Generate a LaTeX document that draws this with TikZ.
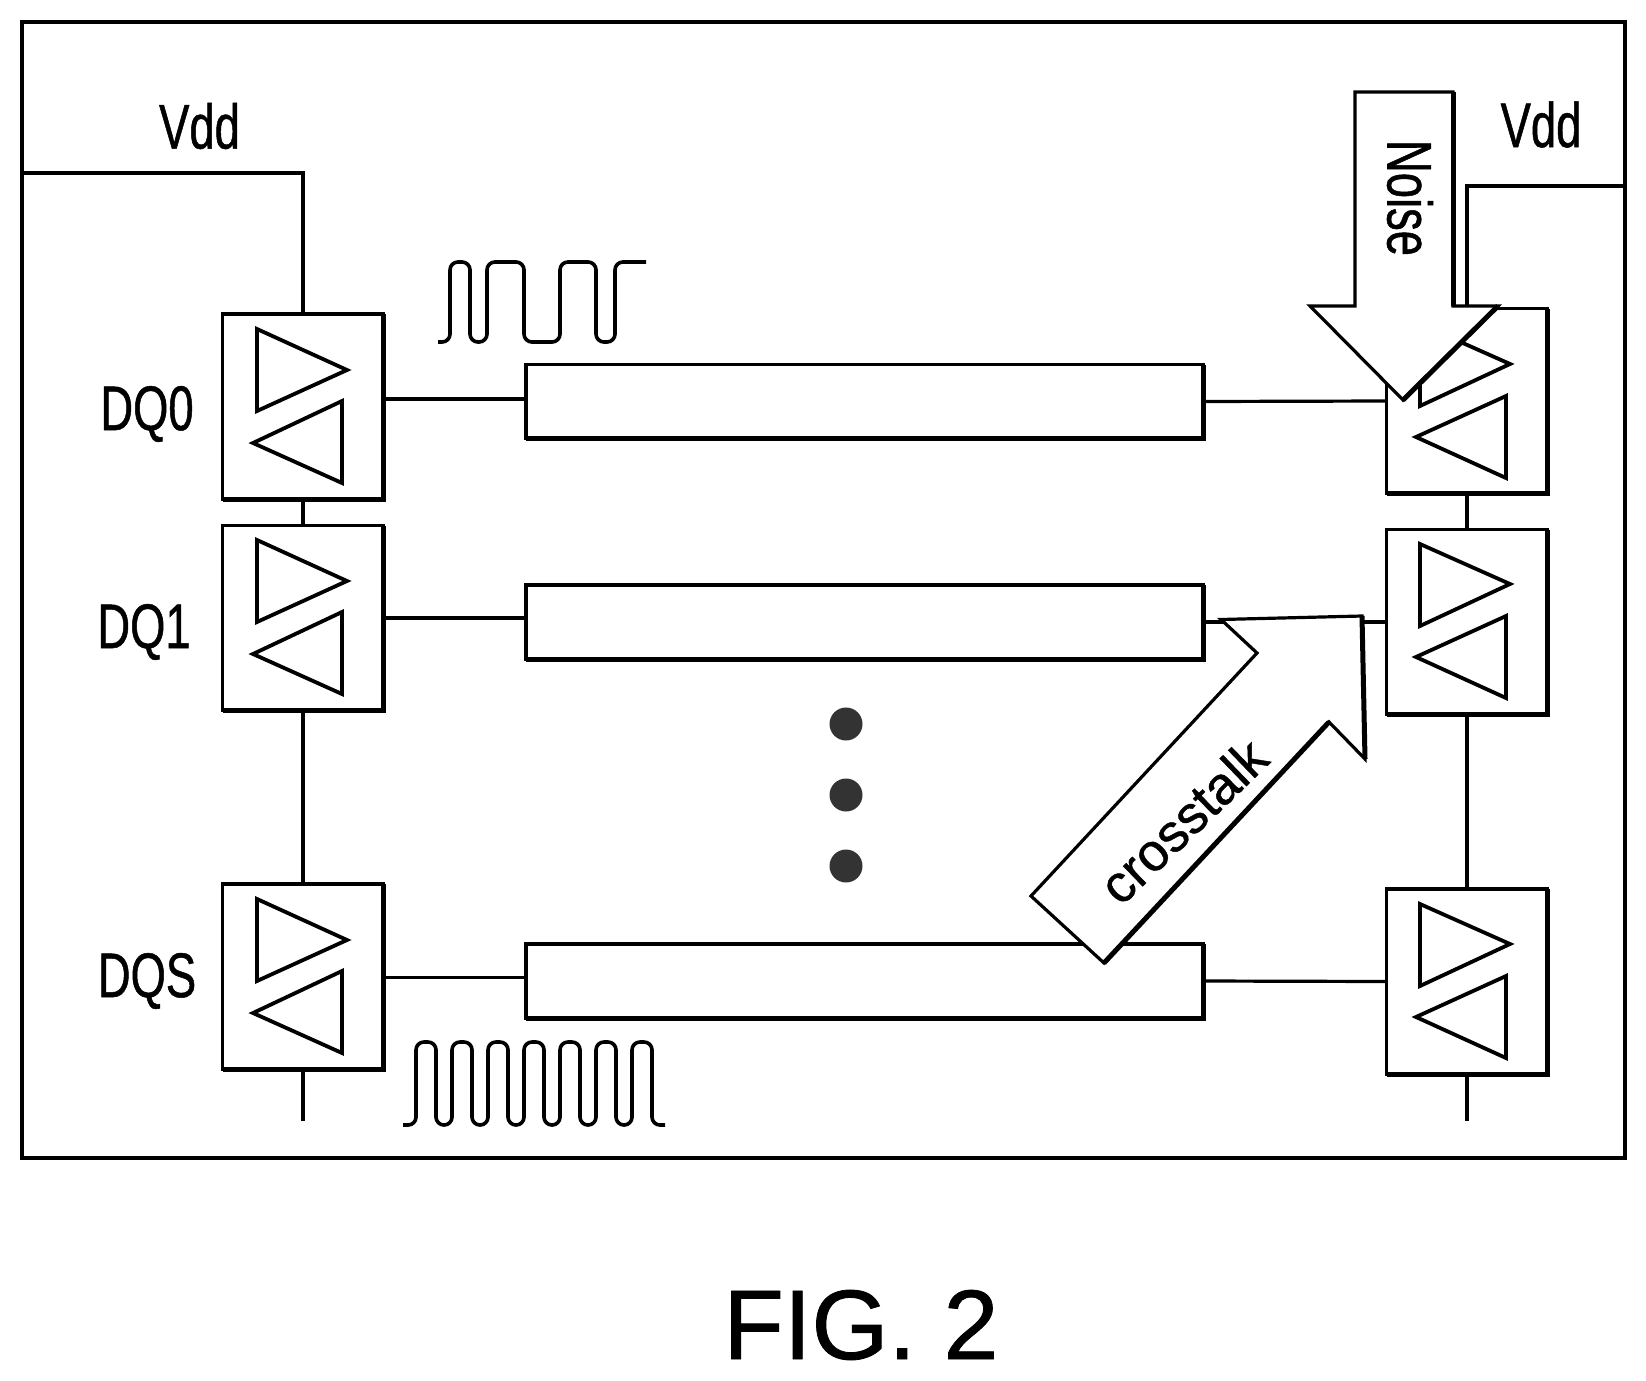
\documentclass[tikz,border=0pt]{standalone}
\usepackage{fontspec}
\setmainfont[FakeBold=0.8]{Liberation Sans}
\newfontfamily\narrowfont[FakeStretch=0.72, FakeBold=0.8]{Liberation Sans}
\tikzset{
    frame/.style={draw, line width=3.5pt, inner sep=0pt, outer sep=0pt},
    bufbox/.style={frame, minimum width=161pt, minimum height=185pt},
    linebox/.style={frame, minimum width=677pt, minimum height=74pt},
    wire/.style={line width=3.2pt},
    heavy/.style={line width=5pt},
    amp/.style={line width=3.8pt, line join=miter},
    pulse/.style={line width=3.6pt, rounded corners=7.9pt},
    bigarrow/.style={draw, fill=white, line width=3.2pt, line join=miter},
    dot/.style={circle, fill=black!80, inner sep=0pt, minimum size=33pt},
    label/.style={inner sep=0pt, font=\narrowfont\fontsize{63}{63}\selectfont}
}
\begin{document}
\begin{tikzpicture}[x=1pt, y=-1pt]
        \useasboundingbox (0,0) rectangle (1646,1381);
        \node[frame, minimum width=1603pt, minimum height=1136pt] (chip) at (823.5,590) {};
        \coordinate (vddl) at (22,173);
        \coordinate (vddr) at (1625,186);
        \coordinate (endl) at (303,1121);
        \coordinate (endr) at (1467,1121);
        % left buffers
        \node[bufbox] (dq0) at (303,406.5) {};
        \node[bufbox] (dq1) at (303,618) {};
        \node[bufbox] (dqs) at (303,976.5) {};
        % right buffers
        \node[bufbox] (rx0) at (1467,401) {};
        \node[bufbox] (rx1) at (1467,622) {};
        \node[bufbox] (rxs) at (1467,981.5) {};
        % lines
        \node[linebox] (line0) at (864.5,401.5) {};
        \node[linebox] (line1) at (864.5,622) {};
        \node[linebox] (lines) at (864.5,981) {};
        \draw[heavy] (dq0.south west) -| (dq0.north east);
        \draw[heavy] (dq1.south west) -| (dq1.north east);
        \draw[heavy] (dqs.south west) -| (dqs.north east);
        \draw[heavy] (rx0.south west) -| (rx0.north east);
        \draw[heavy] (rx1.south west) -| (rx1.north east);
        \draw[heavy] (rxs.south west) -| (rxs.north east);
        \draw[heavy] (line0.south west) -| (line0.north east);
        \draw[heavy] (line1.south west) -| (line1.north east);
        \draw[heavy] (lines.south west) -| (lines.north east);
        % amplifiers
        \draw[amp] (257,329) -- (347,370) -- (257,411) -- cycle;
        \draw[amp] (342,401) -- (342,483) -- (253,443) -- cycle;
        \draw[amp] (257,540) -- (347,581) -- (257,622) -- cycle;
        \draw[amp] (342,612) -- (342,694) -- (253,654) -- cycle;
        \draw[amp] (257,899) -- (347,940) -- (257,981) -- cycle;
        \draw[amp] (342,971) -- (342,1053) -- (253,1013) -- cycle;
        \draw[amp] (1420,324) -- (1510,364) -- (1420,406) -- cycle;
        \draw[amp] (1506,396) -- (1506,478) -- (1416,437) -- cycle;
        \draw[amp] (1420,544) -- (1510,584) -- (1420,626) -- cycle;
        \draw[amp] (1506,616) -- (1506,698) -- (1416,657) -- cycle;
        \draw[amp] (1420,904) -- (1510,944) -- (1420,986) -- cycle;
        \draw[amp] (1506,976) -- (1506,1058) -- (1416,1017) -- cycle;
        % wires
        \draw[wire] (vddl) -| (dq0.north);
        \draw[wire] (dq0.south) -- (dq1.north);
        \draw[wire] (dq1.south) -- (dqs.north);
        \draw[wire] (dqs.south) -- (endl);
        \draw[wire] (vddr) -| (rx0.north);
        \draw[wire] (rx0.south) -- (rx1.north);
        \draw[wire] (rx1.south) -- (rxs.north);
        \draw[wire] (rxs.south) -- (endr);
        \draw[wire] ([yshift=2.5pt]line0.west) -- ([yshift=2.5pt]line0.west -| dq0.east);
        \draw[wire] ([yshift=4pt]line1.west) -- ([yshift=4pt]line1.west -| dq1.east);
        \draw[wire] ([yshift=3.5pt]lines.west) -- ([yshift=3.5pt]lines.west -| dqs.east);
        \draw[wire] (line0.east) -- (rx0.west);
        \draw[wire] (line1.east) -- (rx1.west);
        \draw[wire] (lines.east) -- (rxs.west);
        % pulses
        \draw[pulse] (438,342) -- (450,342) -- (450,262) -- (470,262) -- (470,342) -- (487,342) -- (487,262) -- (524,262) -- (524,342) -- (560,342) -- (560,262) -- (596,262) -- (596,342) -- (615,342) -- (615,262) -- (646,262);
        \draw[pulse] (403,1125) -- (416,1125) -- (416,1042) -- (436,1042) -- (436,1125) -- (452,1125) -- (452,1042) -- (472,1042) -- (472,1125) -- (488,1125) -- (488,1042) -- (508,1042) -- (508,1125) -- (524,1125) -- (524,1042) -- (544,1042) -- (544,1125) -- (560,1125) -- (560,1042) -- (580,1042) -- (580,1125) -- (596,1125) -- (596,1042) -- (616,1042) -- (616,1125) -- (632,1125) -- (632,1042) -- (652,1042) -- (652,1125) -- (665,1125);
        % dots
        \node[dot] (dot0) at (846,724) {};
        \node[dot] (dot1) at (846,795) {};
        \node[dot] (dot2) at (846,866) {};
        % noise and crosstalk
        \draw[bigarrow] (1355,92) -- (1453,92) -- (1453,306) -- (1498,306) -- (1403,400) -- (1310,306) -- (1355,306) -- cycle;
        \draw[heavy] (1453,92) -- (1453,306);
        \draw[heavy] (1498,306) -- (1403,400);
        \draw[bigarrow] (1031,896) -- (1257,653) -- (1221,619.5) -- (1362,616) -- (1365,759) -- (1329,722) -- (1104,963) -- cycle;
        \draw[heavy] (1362,616) -- (1365,759);
        \draw[heavy] (1329,722) -- (1104,963);
        % labels
        \node[label] (vddlab0) at (199.5,126) {Vdd};
        \node[label] (vddlab1) at (1541,124.5) {Vdd};
        \node[label] (dq0lab) at (147,414) {DQ0};
        \node[label] (dq1lab) at (144,632) {DQ1};
        \node[label] (dqslab) at (147,981) {DQS};
        \node[label, rotate=-90] (noiselab) at (1410,198) {Noise};
        \node[inner sep=0pt, rotate=44, font=\fontsize{53}{53}\selectfont] (xtalklab) at (1183,821) {crosstalk};
        \node[inner sep=0pt, font=\fontsize{99}{99}\selectfont] (figlab) at (861,1325) {FIG. 2};
    \end{tikzpicture}
\end{document}
